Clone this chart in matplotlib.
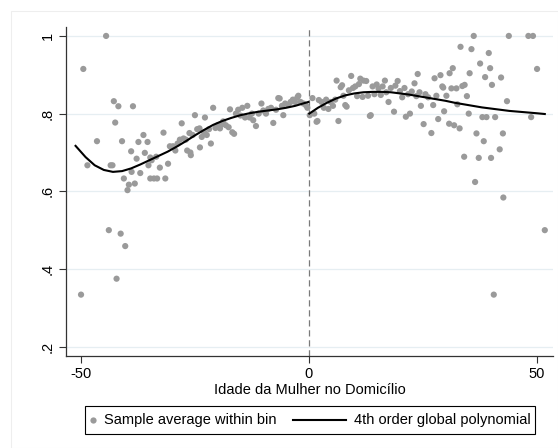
import numpy as np
import matplotlib
matplotlib.use("Agg")
import matplotlib.pyplot as plt
from matplotlib.patches import Rectangle
from matplotlib.lines import Line2D

plt.rcParams['font.family'] = ['Liberation Sans', 'DejaVu Sans']

# bin averages, left of cutoff
xLeft = [-50.0, -49.5, -48.6, -46.5, -44.5, -43.9, -43.5, -43.1, -42.8, -42.5,
         -42.2, -41.8, -41.3, -41.0, -40.6, -40.3, -39.8, -39.5, -39.0, -38.9,
         -38.6, -38.2, -37.8, -37.4, -37.0, -36.3, -36.0, -35.4, -35.2, -34.8,
         -34.8, -34.5, -34.0, -33.5, -33.3, -32.7, -31.9, -31.5, -30.9, -30.5,
         -29.8, -29.3, -28.8, -28.3, -27.9, -27.5, -27.0, -26.7, -26.2, -26.0,
         -25.9, -25.5, -25.0, -24.5, -24.0, -23.9, -23.5, -23.0, -22.8, -22.4,
         -21.9, -21.5, -21.0, -20.5, -20.0, -19.5, -19.0, -18.8, -18.2, -17.6,
         -17.3, -16.8, -16.4, -16.0, -15.5, -15.0, -14.6, -14.0, -13.5, -13.0,
         -12.5, -12.2, -11.6, -11.0, -10.4, -10.0, -9.4, -8.9, -8.3, -7.8,
         -7.2, -6.7, -6.4, -5.9, -5.6, -5.2, -4.5, -4.0, -3.5, -3.0,
         -2.5, -2.3, -1.8, -1.2, -0.6, -0.3]
yLeft = [0.334, 0.915, 0.667, 0.729, 1.000, 0.500, 0.667, 0.667, 0.832, 0.777,
         0.375, 0.819, 0.491, 0.729, 0.633, 0.459, 0.603, 0.617, 0.703, 0.650,
         0.819, 0.620, 0.684, 0.727, 0.647, 0.745, 0.699, 0.727, 0.667, 0.633,
         0.687, 0.680, 0.633, 0.689, 0.633, 0.661, 0.751, 0.633, 0.671, 0.716,
         0.716, 0.705, 0.723, 0.733, 0.775, 0.736, 0.733, 0.705, 0.750, 0.700,
         0.693, 0.745, 0.796, 0.760, 0.762, 0.713, 0.740, 0.752, 0.790, 0.745,
         0.760, 0.723, 0.815, 0.763, 0.770, 0.762, 0.773, 0.780, 0.770, 0.765,
         0.811, 0.752, 0.748, 0.800, 0.810, 0.795, 0.815, 0.790, 0.820, 0.790,
         0.800, 0.783, 0.768, 0.800, 0.826, 0.808, 0.800, 0.812, 0.815, 0.776,
         0.810, 0.840, 0.839, 0.820, 0.796, 0.826, 0.823, 0.830, 0.836, 0.830,
         0.842, 0.846, 0.830, 0.826, 0.821, 0.815]

# bin averages, right of cutoff
xRight = [0.2, 0.8, 1.2, 1.7, 1.9, 2.2, 2.8, 3.3, 3.8, 4.3,
          4.8, 5.3, 5.8, 6.1, 6.5, 7.0, 7.3, 7.6, 8.0, 8.3,
          8.8, 9.3, 9.7, 10.2, 10.6, 11.0, 11.3, 11.8, 12.0, 12.6,
          13.0, 13.4, 13.6, 14.0, 14.4, 14.9, 15.3, 15.8, 16.2, 16.7,
          17.0, 17.5, 18.0, 18.7, 19.0, 19.5, 20.0, 20.5, 21.0, 21.3,
          21.8, 22.2, 22.6, 23.2, 23.6, 23.9, 24.3, 24.6, 25.2, 25.6,
          26.2, 26.9, 27.3, 27.6, 28.0, 28.4, 28.9, 29.3, 29.5, 29.7,
          30.2, 30.8, 30.9, 31.3, 31.6, 31.9, 32.4, 32.6, 33.1, 33.3,
          33.7, 34.1, 34.2, 34.7, 35.1, 35.3, 35.7, 36.2, 36.5, 36.8,
          37.3, 37.6, 38.1, 38.4, 38.7, 39.0, 39.5, 39.8, 40.0, 40.2,
          40.6, 40.9, 41.9, 42.2, 42.6, 42.7, 43.5, 43.9, 48.2, 48.8,
          49.2, 50.1, 51.8]
yRight = [0.796, 0.840, 0.800, 0.779, 0.781, 0.835, 0.830, 0.815, 0.836, 0.812,
          0.830, 0.820, 0.836, 0.885, 0.781, 0.868, 0.873, 0.846, 0.822, 0.818,
          0.860, 0.897, 0.866, 0.870, 0.845, 0.876, 0.890, 0.843, 0.885, 0.884,
          0.846, 0.794, 0.796, 0.870, 0.850, 0.875, 0.865, 0.848, 0.870, 0.885,
          0.855, 0.830, 0.866, 0.805, 0.872, 0.884, 0.858, 0.842, 0.866, 0.792,
          0.850, 0.800, 0.857, 0.878, 0.845, 0.902, 0.855, 0.820, 0.773, 0.850,
          0.842, 0.750, 0.822, 0.891, 0.846, 0.786, 0.899, 0.870, 0.867, 0.806,
          0.846, 0.774, 0.904, 0.865, 0.917, 0.770, 0.865, 0.824, 0.762, 0.972,
          0.871, 0.689, 0.874, 0.845, 0.800, 0.904, 0.966, 1.000, 0.624, 0.749,
          0.686, 0.929, 0.791, 0.729, 0.894, 0.791, 0.956, 0.917, 0.686, 0.874,
          0.334, 0.791, 0.708, 0.893, 0.749, 0.584, 0.832, 1.000, 1.000, 0.791,
          1.000, 0.915, 0.500]

# fitted polynomial
fitXLeft = [-51.2, -49, -47, -45, -43, -41, -39, -37, -35, -33, -31, -29, -27,
            -25, -23, -21, -19, -17, -15, -13, -11, -9, -7, -5, -3, -1, -0.1]
fitYLeft = [0.717, 0.688, 0.667, 0.655, 0.650, 0.652, 0.659, 0.669, 0.680, 0.691,
            0.702, 0.715, 0.729, 0.744, 0.758, 0.771, 0.781, 0.789, 0.796, 0.801,
            0.805, 0.808, 0.811, 0.815, 0.820, 0.827, 0.830]
fitXRight = [0.1, 2, 4, 6, 8, 10, 12, 14, 16, 18, 20, 22, 24, 26, 28, 30, 32, 34,
             36, 38, 40, 42, 44, 46, 48, 50, 51.8]
fitYRight = [0.800, 0.815, 0.828, 0.839, 0.847, 0.852, 0.855, 0.856, 0.856, 0.855,
             0.852, 0.849, 0.845, 0.841, 0.837, 0.833, 0.828, 0.824, 0.820, 0.816,
             0.813, 0.810, 0.807, 0.805, 0.803, 0.801, 0.799]

xTicks = [-50, 0, 50]
xTickLabels = ['-50', '0', '50']
yTicks = [0.2, 0.4, 0.6, 0.8, 1.0]
yTickLabels = ['.2', '.4', '.6', '.8', '1']
legendLabels = ['Sample average within bin', '4th order global polynomial']

W, H = 558, 448
dotColor = '#9a9a9a'

fig = plt.figure(figsize=(W / 100, H / 100), dpi=100)
fig.patches.append(Rectangle((11 / W, 0), 1 - 11 / W, 1 - 11 / H,
                             transform=fig.transFigure, fill=False,
                             edgecolor='#eeeeee', linewidth=0.8))
ax = fig.add_axes([66 / W, 92 / H, 487 / W, 329 / H])

ax.set_xlim(-53.3, 53.6)
ax.set_ylim(0.176, 1.023)

for yv in yTicks:
    ax.axhline(yv, color='#e6eef2', linewidth=0.9, zorder=0)

ax.axvline(0, color='#7a7a7a', linewidth=0.9, linestyle=(0, (5, 3)), zorder=1)

ax.scatter(xLeft + xRight, yLeft + yRight, s=20, color=dotColor,
           edgecolors='none', zorder=2)
ax.plot(fitXLeft, fitYLeft, color='black', linewidth=1.5, zorder=3)
ax.plot(fitXRight, fitYRight, color='black', linewidth=1.5, zorder=3)

ax.set_xticks(xTicks)
ax.set_xticklabels(xTickLabels)
ax.set_yticks(yTicks)
ax.set_yticklabels(yTickLabels, rotation=90, va='center')
ax.tick_params(direction='out', length=5, width=0.8, color='#333333',
               labelsize=10.5, pad=3)
for side in ['top', 'right']:
    ax.spines[side].set_visible(False)
for side in ['left', 'bottom']:
    ax.spines[side].set_color('#333333')
    ax.spines[side].set_linewidth(0.9)

ax.set_xlabel('Idade da Mulher no Domicílio', fontsize=10.5, labelpad=1)

# legend box drawn by hand (Stata style: small marker key, long line key)
legTop, legBot = 406, 434
legY = 1 - (legTop + legBot) / 2 / H
fig.patches.append(Rectangle((85 / W, 1 - legBot / H), 450 / W, (legBot - legTop) / H,
                             transform=fig.transFigure, facecolor='white',
                             edgecolor='black', linewidth=0.8))
fig.add_artist(Line2D([93 / W], [legY], transform=fig.transFigure, marker='o',
                      markersize=4.5, color=dotColor, markeredgewidth=0,
                      linestyle='none'))
fig.text(104 / W, legY, legendLabels[0], fontsize=10.5, va='center', ha='left')
fig.add_artist(Line2D([293 / W, 346 / W], [legY, legY], transform=fig.transFigure,
                      color='black', linewidth=1.5))
fig.text(354 / W, legY, legendLabels[1], fontsize=10.5, va='center', ha='left')

fig.savefig('out.png', dpi=100)
